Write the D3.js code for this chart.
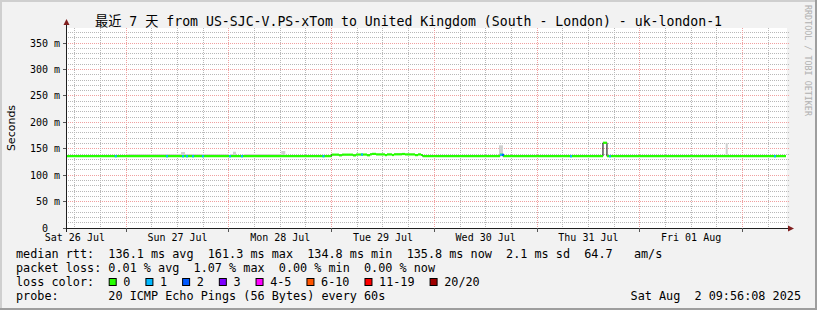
<!DOCTYPE html>
<html><head><meta charset="utf-8">
<script src="https://cdn.jsdelivr.net/npm/d3@7"></script>
<style>
body{margin:0;background:#f2f2f2}
svg{display:block}
text{white-space:pre}
</style>
</head><body>
<svg id="c" width="817" height="310"></svg>
<script>
// ---------------- data ----------------
const titleText = "最近 7 天 from US-SJC-V.PS-xTom to United Kingdom (South - London) - uk-london-1";
const yAxisTitle = "Seconds";
const watermark = "RRDTOOL / TOBI OETIKER";
const windowStart = "2025-07-26 10:10";
const windowEnd = "2025-08-02 10:10";
const yMax = 0.3784; // seconds
const yTickValues = [0, 0.05, 0.10, 0.15, 0.20, 0.25, 0.30, 0.35];
const yTickLabels = ["0  ", "50 m", "100 m", "150 m", "200 m", "250 m", "300 m", "350 m"];
const yMinorStep = 0.01;
const dayLabelTimes = ["2025-07-26 12:00", "2025-07-27 12:00", "2025-07-28 12:00", "2025-07-29 12:00",
                       "2025-07-30 12:00", "2025-07-31 12:00", "2025-08-01 12:00"];
const dayLabels = ["Sat 26 Jul", "Sun 27 Jul", "Mon 28 Jul", "Tue 29 Jul", "Wed 30 Jul", "Thu 31 Jul", "Fri 01 Aug"];

// median RTT (ms): value holds from each time until the next one
const rttTimes = ["2025-07-26 10:10",
  "2025-07-29 00:00", "2025-07-29 01:44", "2025-07-29 02:26", "2025-07-29 05:00", "2025-07-29 05:42",
  "2025-07-29 08:16", "2025-07-29 08:58", "2025-07-29 09:26", "2025-07-29 10:22", "2025-07-29 12:28",
  "2025-07-29 12:56", "2025-07-29 14:06", "2025-07-29 14:34", "2025-07-29 16:26", "2025-07-29 17:09",
  "2025-07-29 19:29", "2025-07-29 20:11", "2025-07-29 20:53", "2025-07-29 21:17",
  "2025-07-30 15:20", "2025-07-30 16:02",
  "2025-07-31 15:24", "2025-07-31 16:20",
  "2025-08-02 10:10"];
const rttValues = [135.8,
  138.8, 137.5, 138.8, 137.4, 139.0,
  137.6, 139.4, 140.2, 139.2, 137.9,
  139.2, 138.1, 139.4, 140.0, 139.2,
  137.9, 139.2, 138.1, 135.8,
  138.5, 135.8,
  161.3, 135.8,
  135.8];

// samples with lost pings (of 20)
const lossTimes = ["2025-07-26 21:20", "2025-07-27 09:18", "2025-07-27 13:02", "2025-07-27 13:58", "2025-07-27 15:23",
  "2025-07-27 17:42", "2025-07-28 00:01", "2025-07-28 02:50", "2025-07-28 21:52", "2025-07-29 06:52",
  "2025-07-30 15:20", "2025-07-30 15:48", "2025-07-31 07:42", "2025-07-31 16:48", "2025-08-02 07:21"];
const lossCounts = [1, 1, 1, 1, 1, 1, 1, 1, 1, 1, 1, 2, 1, 1, 1];
const sampleMinutes = 28;

// smoke: highest ping RTT (ms) where it shows above the median
const smokeStarts = ["2025-07-27 00:15", "2025-07-27 12:48", "2025-07-27 13:44", "2025-07-28 00:15", "2025-07-28 00:57",
  "2025-07-28 03:29", "2025-07-28 12:14", "2025-07-30 15:06", "2025-08-01 20:05"];
const smokeEnds = ["2025-07-27 12:48", "2025-07-27 13:44", "2025-07-28 00:00", "2025-07-28 00:57", "2025-07-28 01:39",
  "2025-07-28 12:00", "2025-07-28 13:10", "2025-07-30 16:02", "2025-08-01 20:33"];
const smokeTops = [140.0, 143.8, 140.0, 139.8, 144.3, 139.8, 145.7, 156.5, 160.5];

const lossLabels = ["0", "1", "2", "3", "4-5", "6-10", "11-19", "20/20"];
const lossColors = ["#26ff00", "#00b8ff", "#0059ff", "#7e00ff", "#ff00ff", "#ff5500", "#ff0000", "#a00000"];
const lossBounds = [0, 1, 2, 3, 5, 10, 19, 20];

const rttStats = ["136.1 ms avg", "161.3 ms max", "134.8 ms min", "135.8 ms now", "2.1 ms sd", "64.7   am/s"];
const lossStats = ["0.01 % avg", "1.07 % max", "0.00 % min", "0.00 % now"];
const probeText = "20 ICMP Echo Pings (56 Bytes) every 60s";
const stampText = "Sat Aug  2 09:56:08 2025";

// ---------------- drawing ----------------
const parse = d3.timeParse("%Y-%m-%d %H:%M");
const svg = d3.select("#c");
const W = 817, H = 310;
const mono = "'DejaVu Sans Mono', 'Noto Sans CJK SC', monospace";

const x = d3.scaleTime().domain([parse(windowStart), parse(windowEnd)]).range([67, 786]);
const y = d3.scaleLinear().domain([0, yMax]).range([228, 28]);
const px = v => Math.floor(v) + 0.5;
const pi = v => Math.floor(v);

// dotted-pixel patterns
const defs = svg.append("defs");
const minorCol = "#b8b8b8", majorCol = "#f0a0a0";
[["hmin", 2, 1, minorCol], ["hmaj", 2, 1, majorCol], ["vmin", 1, 2, minorCol], ["vmaj", 1, 2, majorCol]].forEach(([id, w, h, c]) => {
  const p = defs.append("pattern").attr("id", id).attr("patternUnits", "userSpaceOnUse")
    .attr("x", 0).attr("y", 0).attr("width", w).attr("height", h);
  p.append("rect").attr("width", 1).attr("height", 1).attr("fill", c);
});

// background + 3D frame
svg.append("rect").attr("width", W).attr("height", H).attr("fill", "#f2f2f2");
svg.append("path").attr("d", `M0,${H}V0H${W}`).attr("fill", "none").attr("stroke", "#cfcfcf").attr("stroke-width", 4);
svg.append("path").attr("d", `M0,${H}H${W}V0`).attr("fill", "none").attr("stroke", "#9e9e9e").attr("stroke-width", 4);
svg.append("rect").attr("x", 67).attr("y", 28).attr("width", 720).attr("height", 200).attr("fill", "#ffffff");

const grid = svg.append("g").attr("shape-rendering", "crispEdges");
const nMinor = Math.floor(yMax / yMinorStep + 1e-9);
const yMinor = d3.range(1, nMinor + 1).map(k => k * yMinorStep);
yMinor.forEach(v => {
  const major = Math.round(v * 1000) % 50 === 0;
  grid.append("rect").attr("x", 67).attr("y", pi(y(v))).attr("width", 722).attr("height", 1)
    .attr("fill", major ? "url(#hmaj)" : "url(#hmin)");
});
const t0 = parse(windowStart), t1 = parse(windowEnd);
d3.timeHour.every(6).range(t0, t1).forEach(t => {
  const major = t.getHours() === 0;
  grid.append("rect").attr("x", pi(x(t))).attr("y", 28).attr("width", 1).attr("height", 200)
    .attr("fill", major ? "url(#vmaj)" : "url(#vmin)");
});

// smoke
const medianAt = t => rttValues[Math.max(0, d3.bisectRight(rttTimes.map(parse), t) - 1)];
smokeTops.forEach((top, i) => {
  const a = parse(smokeStarts[i]), b = parse(smokeEnds[i]);
  svg.append("rect").attr("x", x(a)).attr("width", Math.max(1, x(b) - x(a)))
    .attr("y", y(top / 1000)).attr("height", y(medianAt(a) / 1000) - y(top / 1000))
    .attr("fill", "#d0d0d0");
});

// median black step line
const pts = rttTimes.map((t, i) => [parse(t), rttValues[i] / 1000]);
svg.append("path").datum(pts)
  .attr("d", d3.line().x(d => x(d[0])).y(d => y(d[1])).curve(d3.curveStepAfter))
  .attr("fill", "none").attr("stroke", "#000").attr("stroke-width", 1);
for (let i = 0; i < pts.length - 1; i++) {
  svg.append("line").attr("x1", x(pts[i][0])).attr("x2", x(pts[i + 1][0]))
    .attr("y1", y(pts[i][1])).attr("y2", y(pts[i][1]))
    .attr("stroke", lossColors[0]).attr("stroke-width", 2.2);
}
lossTimes.forEach((t, i) => {
  const a = parse(t), b = new Date(+a + sampleMinutes * 60000);
  const ci = lossBounds.findIndex(bd => lossCounts[i] <= bd);
  svg.append("line").attr("x1", x(a)).attr("x2", x(b))
    .attr("y1", y(medianAt(a) / 1000)).attr("y2", y(medianAt(a) / 1000))
    .attr("stroke", lossColors[ci]).attr("stroke-width", 2.2);
});

// axes
const ax = svg.append("g").attr("shape-rendering", "crispEdges");
ax.append("line").attr("x1", 63).attr("x2", 789).attr("y1", 228.5).attr("y2", 228.5).attr("stroke", "#1f1f1f");
ax.append("line").attr("x1", 66.5).attr("x2", 66.5).attr("y1", 232).attr("y2", 24).attr("stroke", "#1f1f1f");
yTickValues.forEach(v => {
  ax.append("line").attr("x1", 63).attr("x2", 66).attr("y1", px(y(v))).attr("y2", px(y(v))).attr("stroke", "#555");
});
d3.timeDay.range(t0, t1).forEach(t => {
  ax.append("line").attr("x1", px(x(t))).attr("x2", px(x(t))).attr("y1", 228).attr("y2", 232).attr("stroke", "#555");
});
svg.append("path").attr("d", "M788,225.5L794,228.5L788,231.5Z").attr("fill", "#801f1f");
svg.append("path").attr("d", "M63.5,25L66.5,19L69.5,25Z").attr("fill", "#801f1f");

// y labels
svg.append("g").selectAll("text").data(yTickValues).join("text")
  .attr("x", 60).attr("y", v => y(v) + 3.5).attr("text-anchor", "end")
  .attr("font-family", mono).attr("font-size", 10).attr("fill", "#000")
  .text((v, i) => yTickLabels[i]);
// x labels
svg.append("g").selectAll("text").data(dayLabels).join("text")
  .attr("x", (d, i) => x(parse(dayLabelTimes[i]))).attr("y", 240.5).attr("text-anchor", "middle")
  .attr("font-family", mono).attr("font-size", 10).attr("fill", "#000")
  .text(d => d);

// title
svg.append("text").attr("x", 408.5).attr("y", 26).attr("text-anchor", "middle")
  .attr("font-family", mono).attr("font-size", 13.2).attr("fill", "#000").text(titleText);
// y title
svg.append("text").attr("transform", "translate(14.5,128) rotate(-90)").attr("text-anchor", "middle")
  .attr("font-family", "'DejaVu Sans', sans-serif").attr("font-size", 11).attr("fill", "#000").text(yAxisTitle);
// watermark
svg.append("text").attr("transform", "translate(805,5) rotate(90)")
  .attr("font-family", mono).attr("font-size", 8.4).attr("fill", "#b0b0b0").text(watermark);

// legend
const lg = svg.append("g").attr("font-family", mono).attr("font-size", 11.8).attr("fill", "#000");
lg.append("text").attr("x", 16).attr("y", 258).text("median rtt:  " + rttStats.join("  "));
lg.append("text").attr("x", 16).attr("y", 272).text("packet loss: " + lossStats.join("  "));
lg.append("text").attr("x", 16).attr("y", 286).text("loss color:");
lg.append("text").attr("x", 16).attr("y", 300).text("probe:       " + probeText);
lg.append("text").attr("x", 801).attr("y", 300).attr("text-anchor", "end").text(stampText);
let bx = 108.7;
lossLabels.forEach((lab, i) => {
  lg.append("rect").attr("x", bx + 0.5).attr("y", 278.5).attr("width", 7).attr("height", 7)
    .attr("fill", lossColors[i]).attr("stroke", "#000").attr("stroke-width", 1);
  const t = lg.append("text").attr("x", bx + 14.6).attr("y", 286).text(lab);
  bx = bx + 14.6 + t.node().getComputedTextLength() + 15;
});
</script>
</body></html>
